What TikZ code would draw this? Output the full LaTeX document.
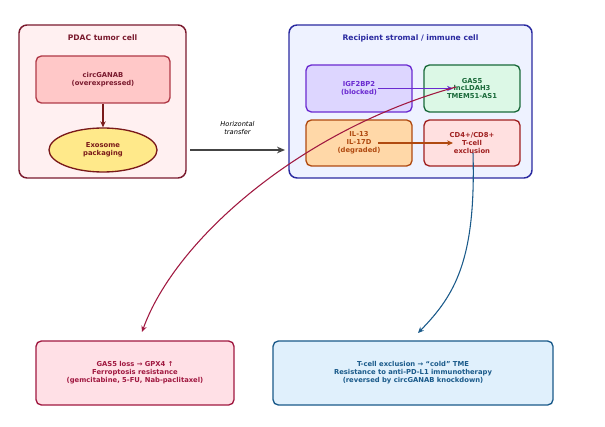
\documentclass[tikz,border=0pt]{standalone}
\usepackage{fontspec}
\setmainfont{DejaVu Sans}
\usetikzlibrary{shapes.geometric,arrows.meta}
\definecolor{pdacfill}{HTML}{FFF0F1}
\definecolor{pdacdraw}{HTML}{7A1A2E}
\definecolor{circfill}{HTML}{FFC8C8}
\definecolor{circdraw}{HTML}{B03A48}
\definecolor{exofill}{HTML}{FFE98A}
\definecolor{exodraw}{HTML}{7A1A1A}
\definecolor{recfill}{HTML}{EEF2FF}
\definecolor{recdraw}{HTML}{2A2AA0}
\definecolor{igffill}{HTML}{DDD6FF}
\definecolor{igfdraw}{HTML}{6A2AD0}
\definecolor{gasfill}{HTML}{DCF8E6}
\definecolor{gasdraw}{HTML}{1A6A3A}
\definecolor{ilfill}{HTML}{FFD8A8}
\definecolor{ildraw}{HTML}{B04A10}
\definecolor{cdfill}{HTML}{FFE0E0}
\definecolor{cddraw}{HTML}{A02020}
\definecolor{ferfill}{HTML}{FFE0E6}
\definecolor{ferdraw}{HTML}{A01840}
\definecolor{tcfill}{HTML}{E0F0FC}
\definecolor{tcdraw}{HTML}{1A5A8A}
\definecolor{grayarrow}{HTML}{444444}
\tikzset{
  box/.style={draw, rounded corners=4pt, line width=1pt, align=center, font=\bfseries\fontsize{5.1}{5.9}\selectfont, inner sep=0pt},
  bigbox/.style={draw, rounded corners=6pt, line width=1.1pt},
  title/.style={font=\bfseries\fontsize{5.7}{6.6}\selectfont},
  arr/.style={-{Stealth[length=4.5pt,width=4pt]}, line width=0.8pt}
}
\begin{document}
\begin{tikzpicture}[x=0.75pt,y=-0.75pt]
\useasboundingbox (0,0) rectangle (605,427);
\fill[white] (0,0) rectangle (605,427);
% PDAC
\node[bigbox, fill=pdacfill, draw=pdacdraw, minimum width=167*0.75pt, minimum height=153*0.75pt] (pdac) at (102.5,101.5) {};
\node[title, text=pdacdraw] (pdactitle) at (102.5,38) {PDAC tumor cell};
\node[box, fill=circfill, draw=circdraw, text=pdacdraw, minimum width=134*0.75pt, minimum height=47*0.75pt] (circ) at (103,79.5) {circGANAB\\(overexpressed)};
\node[ellipse, draw=exodraw, fill=exofill, line width=1pt, minimum width=108*0.75pt, minimum height=44*0.75pt, inner sep=0pt, align=center, text=exodraw, font=\bfseries\fontsize{5.1}{5.9}\selectfont] (exo) at (103,150) {Exosome\\packaging};
\draw[arr, draw=exodraw] (circ.south) -- (exo.north);
% Recipient
\node[bigbox, fill=recfill, draw=recdraw, minimum width=243*0.75pt, minimum height=153*0.75pt] (rec) at (410.5,101.5) {};
\node[title, text=recdraw] (rectitle) at (410.5,38) {Recipient stromal / immune cell};
\node[box, fill=igffill, draw=igfdraw, text=igfdraw, minimum width=106*0.75pt, minimum height=47*0.75pt] (igf) at (359,88.5) {IGF2BP2\\(blocked)};
\node[box, fill=gasfill, draw=gasdraw, text=gasdraw, minimum width=96*0.75pt, minimum height=47*0.75pt] (gas) at (472,88.5) {GAS5\\lncLDAH3\\TMEM51-AS1};
\node[box, fill=ilfill, draw=ildraw, text=ildraw, minimum width=106*0.75pt, minimum height=46*0.75pt] (il) at (359,143) {IL-13\\IL-17D\\(degraded)};
\node[box, fill=cdfill, draw=cddraw, text=cddraw, minimum width=96*0.75pt, minimum height=46*0.75pt] (cd) at (472,143) {CD4+/CD8+\\T-cell\\exclusion};
\coordinate (igfs) at (378,88.5);
\coordinate (gase) at (453,88.5);
\draw[arr, draw=igfdraw] (igfs) -- (gase);
\coordinate (ils) at (378,143);
\coordinate (cde) at (453,143);
\draw[arr, draw=ildraw] (ils) -- (cde);
% transfer
\coordinate (ts) at (190,150);
\coordinate (te) at (285,150);
\draw[-{Stealth[length=6pt,width=5pt]}, line width=1.3pt, draw=grayarrow] (ts) -- (te);
\node[font=\itshape\fontsize{5}{5.9}\selectfont, align=center, text=black] (tlabel) at (237.5,128) {Horizontal\\transfer};
% bottom boxes
\node[box, fill=ferfill, draw=ferdraw, text=ferdraw, minimum width=198*0.75pt, minimum height=64*0.75pt] (fer) at (135,373) {GAS5 loss → GPX4 ↑\\Ferroptosis resistance\\(gemcitabine, 5-FU, Nab-paclitaxel)};
\node[box, fill=tcfill, draw=tcdraw, text=tcdraw, minimum width=280*0.75pt, minimum height=64*0.75pt] (tc) at (413,373) {T-cell exclusion → “cold” TME\\Resistance to anti-PD-L1 immunotherapy\\(reversed by circGANAB knockdown)};
% curves
\coordinate (gasc) at (456,87);
\coordinate (ferend) at (142,332);
\draw[arr, draw=ferdraw] (gasc) .. controls (300,130) and (175,240) .. (ferend);
\coordinate (cdc) at (473,153);
\coordinate (tcend) at (418,333);
\draw[arr, draw=tcdraw] (cdc) .. controls (476,260) and (455,295) .. (tcend);
\end{tikzpicture}
\end{document}
